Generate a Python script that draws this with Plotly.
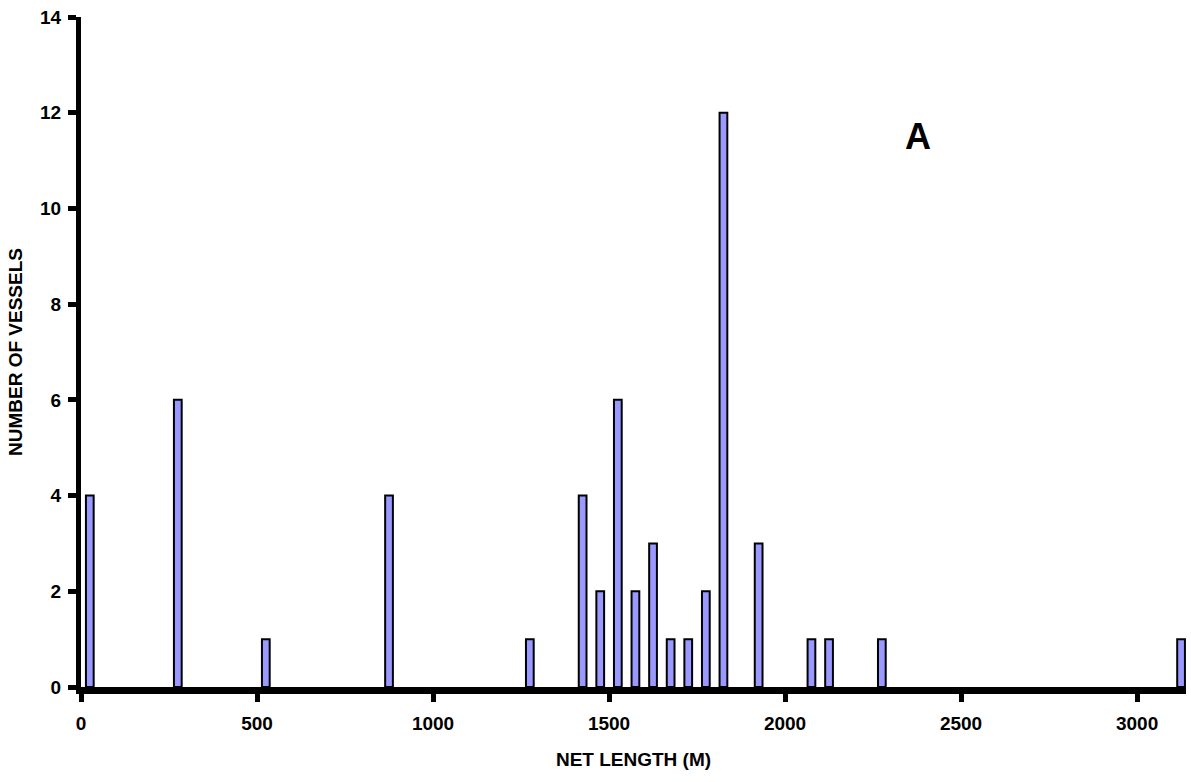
import plotly.graph_objects as go

# Histogram data: net length bins (start of 50 m bin) and number of vessels
bin_start = [0, 250, 500, 850, 1250, 1400, 1450, 1500, 1550, 1600, 1650, 1700,
             1750, 1800, 1900, 2050, 2100, 2250, 3100]
vessels = [4, 6, 1, 4, 1, 4, 2, 6, 2, 3, 1, 1, 2, 12, 3, 1, 1, 1, 1]
bin_width = 50
x_ticks = [0, 500, 1000, 1500, 2000, 2500, 3000]
y_ticks = [0, 2, 4, 6, 8, 10, 12, 14]

bin_center = [b + bin_width / 2 for b in bin_start]

FONT = "Liberation Sans, Arial, Helvetica, sans-serif"

fig = go.Figure()
fig.add_trace(go.Bar(
    x=bin_center,
    y=vessels,
    width=bin_width * 0.44,
    marker=dict(color="#9999FF", line=dict(color="black", width=2)),
))

fig.update_layout(
    width=1191,
    height=782,
    margin=dict(l=81, r=5, t=17, b=95),
    paper_bgcolor="white",
    plot_bgcolor="white",
    showlegend=False,
    font=dict(family=FONT, color="black"),
)

fig.update_xaxes(
    range=[0, 3139],
    tickvals=x_ticks,
    ticktext=[str(v) for v in x_ticks],
    showline=True, linecolor="black", linewidth=7,
    ticks="outside", ticklen=8, tickwidth=5, tickcolor="black",
    ticklabelstandoff=5,
    showgrid=False, zeroline=False,
    tickfont=dict(family=FONT, size=19, color="black", weight="bold"),
    title=dict(text="NET LENGTH (M)", standoff=22,
               font=dict(family=FONT, size=19, color="black", weight="bold")),
)
fig.update_yaxes(
    range=[0, 14],
    tickvals=y_ticks,
    ticktext=[str(v) for v in y_ticks],
    showline=True, linecolor="black", linewidth=5,
    ticks="outside", ticklen=8, tickwidth=5, tickcolor="black",
    ticklabelstandoff=3,
    showgrid=False, zeroline=False,
    tickfont=dict(family=FONT, size=19, color="black", weight="bold"),
    title=dict(text="NUMBER OF VESSELS", standoff=14,
               font=dict(family=FONT, size=19, color="black", weight="bold")),
)

fig.add_annotation(
    x=2378, y=11.5, xref="x", yref="y",
    text="A", showarrow=False,
    font=dict(family=FONT, size=36, color="black", weight="bold"),
)

fig.write_html("out.html")
